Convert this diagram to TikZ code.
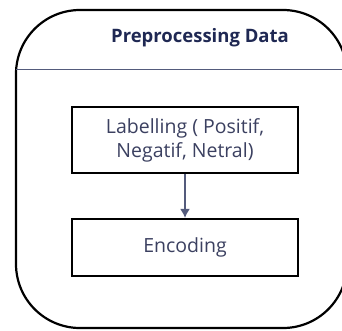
\documentclass[tikz,border=0pt]{standalone}
\usepackage{fontspec}
\setmainfont{Open Sans}
\usepackage{tikz}
\usetikzlibrary{arrows.meta}
\definecolor{titlec}{HTML}{1F2853}
\definecolor{textc}{HTML}{3B4060}
\definecolor{linec}{HTML}{545B7C}
\tikzset{
  box/.style={draw=black,line width=2.2pt,minimum width=226pt,inner sep=0pt,
    text=textc,align=center,font=\fontsize{19.5}{24}\selectfont},
}

\begin{document}
\begin{tikzpicture}[x=1pt,y=-1pt]
  \useasboundingbox (0,0) rectangle (342,330);
  \begin{scope}
  \clip (0,0) rectangle (342,330);
  \draw[line width=2.2pt,rounded corners=64pt] (16,10) rectangle (347,328);
  \end{scope}
  \draw[linec,line width=1.8pt] (16,69.5) -- (342,69.5);
  \node(title) at (200,38)[text=titlec,font=\fontsize{18.5}{22}\selectfont\bfseries]{Preprocessing Data};
  \node(label) at (185,140)[box,minimum height=66pt]{Labelling ( Positif,\\Negatif, Netral)};
  \node(enc) at (185,247.5)[box,minimum height=57pt]{Encoding};
  \draw[linec,line width=1.5pt,-{Latex[length=9pt,width=10pt]}] (label) -- (enc);
\end{tikzpicture}
\end{document}
